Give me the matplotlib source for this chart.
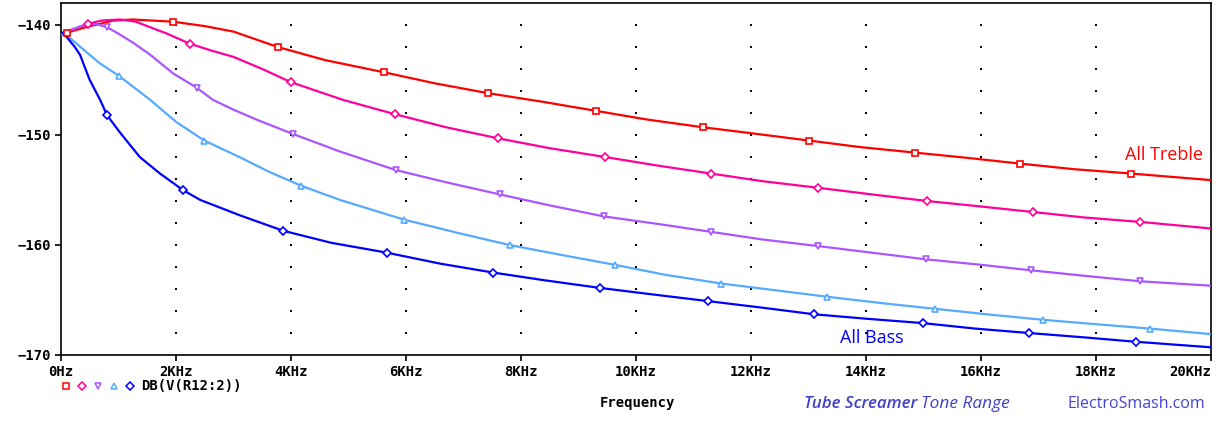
import numpy as np
import matplotlib

matplotlib.use("Agg")
from matplotlib import pyplot as plt
from matplotlib.lines import Line2D

# frequency in kHz, level in dB
treble_f = [0.0, 0.1, 0.3, 0.5, 0.68, 0.9, 1.25, 1.6, 1.95, 2.5, 3.0, 3.77, 4.6, 5.62, 6.5, 7.43, 8.4, 9.3, 10.2,
            11.17, 12.1, 13.0, 13.9, 14.85, 15.8, 16.68, 17.6, 18.6, 19.3, 20.0]
treble_db = [-140.8, -140.7, -140.4, -140.1, -139.9, -139.6, -139.5, -139.6, -139.7, -140.1, -140.6, -142.0,
             -143.2, -144.3, -145.3, -146.2, -147.0, -147.8, -148.6, -149.3, -149.9, -150.5, -151.1, -151.6,
             -152.1, -152.6, -153.1, -153.5, -153.8, -154.1]
treble_mf = [0.1, 1.95, 3.77, 5.62, 7.43, 9.3, 11.17, 13.0, 14.85, 16.68, 18.6]
treble_mdb = [-140.7, -139.7, -142.0, -144.3, -146.2, -147.8, -149.3, -150.5, -151.6, -152.6, -153.5]

mid_hi_f = [0.0, 0.2, 0.47, 0.7, 1.03, 1.3, 1.55, 1.85, 2.24, 2.6, 3.0, 3.5, 4.0, 4.9, 5.8, 6.7, 7.6, 8.5, 9.46,
            10.4, 11.3, 12.2, 13.17, 14.1, 15.06, 16.0, 16.9, 17.8, 18.77, 20.0]
mid_hi_db = [-140.8, -140.4, -139.9, -139.6, -139.5, -139.7, -140.2, -140.8, -141.7, -142.3, -142.9, -144.0,
             -145.2, -146.8, -148.1, -149.3, -150.3, -151.2, -152.0, -152.8, -153.5, -154.2, -154.8, -155.4,
             -156.0, -156.5, -157.0, -157.5, -157.9, -158.5]
mid_hi_mf = [0.47, 2.24, 4.0, 5.8, 7.6, 9.46, 11.3, 13.17, 15.06, 16.9, 18.77]
mid_hi_mdb = [-139.9, -141.7, -145.2, -148.1, -150.3, -152.0, -153.5, -154.8, -156.0, -157.0, -157.9]

mid_f = [0.0, 0.2, 0.4, 0.6, 0.8, 0.97, 1.25, 1.55, 1.95, 2.36, 2.64, 3.0, 3.4, 4.03, 4.85, 5.83, 6.7, 7.63,
         8.5, 9.44, 10.4, 11.3, 12.2, 13.17, 14.1, 15.04, 16.0, 16.87, 17.8, 18.77, 20.0]
mid_db = [-140.8, -140.4, -140.0, -139.9, -140.2, -140.7, -141.6, -142.7, -144.4, -145.7, -146.8, -147.7,
          -148.6, -149.9, -151.5, -153.2, -154.3, -155.4, -156.4, -157.4, -158.1, -158.8, -159.5, -160.1,
          -160.7, -161.3, -161.8, -162.3, -162.8, -163.3, -163.7]
mid_mf = [0.8, 2.36, 4.03, 5.83, 7.63, 9.44, 11.3, 13.17, 15.04, 16.87, 18.77]
mid_mdb = [-140.2, -145.7, -149.9, -153.2, -155.4, -157.4, -158.8, -160.1, -161.3, -162.3, -163.3]

mid_lo_f = [0.0, 0.16, 0.45, 0.68, 1.0, 1.25, 1.55, 2.0, 2.49, 3.1, 3.6, 4.17, 4.85, 5.97, 6.9, 7.8, 8.7,
            9.63, 10.5, 11.48, 12.4, 13.32, 14.3, 15.2, 16.1, 17.08, 18.0, 18.94, 20.0]
mid_lo_db = [-140.8, -141.2, -142.5, -143.5, -144.6, -145.6, -146.8, -148.8, -150.5, -152.0, -153.3, -154.6,
             -155.9, -157.7, -158.9, -160.0, -160.9, -161.8, -162.7, -163.5, -164.1, -164.7, -165.3, -165.8,
             -166.3, -166.8, -167.2, -167.6, -168.1]
mid_lo_mf = [1.0, 2.49, 4.17, 5.97, 7.8, 9.63, 11.48, 13.32, 15.2, 17.08, 18.94]
mid_lo_mdb = [-144.6, -150.5, -154.6, -157.7, -160.0, -161.8, -163.5, -164.7, -165.8, -166.8, -167.6]

bass_f = [0.0, 0.1, 0.24, 0.33, 0.5, 0.68, 0.8, 1.03, 1.37, 1.72, 2.12, 2.42, 3.11, 3.86, 4.7, 5.67, 6.6, 7.51,
          8.4, 9.37, 10.3, 11.25, 12.2, 13.1, 14.0, 14.99, 15.9, 16.83, 17.8, 18.7, 20.0]
bass_db = [-140.6, -141.1, -142.0, -142.7, -145.0, -146.8, -148.2, -149.8, -152.0, -153.5, -155.0, -155.9,
           -157.3, -158.7, -159.8, -160.7, -161.7, -162.5, -163.2, -163.9, -164.5, -165.1, -165.7, -166.3,
           -166.7, -167.1, -167.6, -168.0, -168.4, -168.8, -169.3]
bass_mf = [0.8, 2.12, 3.86, 5.67, 7.51, 9.37, 11.25, 13.1, 14.99, 16.83, 18.7]
bass_mdb = [-148.2, -155.0, -158.7, -160.7, -162.5, -163.9, -165.1, -166.3, -167.1, -168.0, -168.8]

x_ticks = [0, 2, 4, 6, 8, 10, 12, 14, 16, 18, 20]
x_labels = ["0Hz", "2KHz", "4KHz", "6KHz", "8KHz", "10KHz", "12KHz", "14KHz", "16KHz", "18KHz", "20KHz"]
y_ticks = [-170, -160, -150, -140]

series = [
    (treble_f, treble_db, treble_mf, treble_mdb, "#ff0000", "s"),
    (mid_hi_f, mid_hi_db, mid_hi_mf, mid_hi_mdb, "#ff0099", "D"),
    (mid_f, mid_db, mid_mf, mid_mdb, "#aa55ff", "v"),
    (mid_lo_f, mid_lo_db, mid_lo_mf, mid_lo_mdb, "#55aaff", "^"),
    (bass_f, bass_db, bass_mf, bass_mdb, "#0000ff", "D"),
]

mono = {"family": "DejaVu Sans Mono", "weight": "bold", "size": 10}

fig = plt.figure(figsize=(12.17, 4.21), dpi=100)
ax = fig.add_axes([61 / 1217, 66 / 421, 1150 / 1217, 352 / 421])

# dotted grid: points every 2 dB on each inner x tick
gx, gy = np.meshgrid(x_ticks[1:-1], np.arange(-168, -138, 2))
ax.scatter(gx.ravel(), gy.ravel(), s=1.6, color="black", marker="s", linewidths=0, zorder=1)

for f, db, mf, mdb, color, mk in series:
    ax.plot(f, db, color=color, linewidth=1.6, zorder=3)
    ax.plot(mf, mdb, linestyle="none", marker=mk, markersize=3.8, markerfacecolor="white",
            markeredgecolor=color, markeredgewidth=1.2, zorder=4)

ax.set_xlim(0, 20)
ax.set_ylim(-170, -138)
ax.set_xticks(x_ticks)
ax.set_xticklabels(x_labels, fontdict=mono)
ax.get_xticklabels()[-1].set_ha("right")
ax.set_yticks(y_ticks)
ax.set_yticklabels([f"\u2212{abs(v)}" for v in y_ticks], fontdict=mono)
ax.tick_params(direction="out", length=4, width=1.2, pad=3)
for s in ax.spines.values():
    s.set_linewidth(1.2)

fig.text(1164 / 1217, 1 - 155 / 421, "All Treble", color="#ff0000", fontsize=13, ha="center", va="center",
         family="Open Sans")
fig.text(872 / 1217, 1 - 338 / 421, "All Bass", color="#0000ff", fontsize=13, ha="center", va="center",
         family="Open Sans")

# legend row under the axis
leg_x = [66, 82, 98, 114, 130]
for (f, db, mf, mdb, color, mk), lx in zip(series, leg_x):
    fig.lines.append(Line2D([lx / 1217], [1 - 386 / 421], transform=fig.transFigure,
                            linestyle="none", marker=mk, markersize=3.8,
                            markerfacecolor="white", markeredgecolor=color, markeredgewidth=1.1))
fig.text(141 / 1217, 1 - 386 / 421, "DB(V(R12:2))", va="center", ha="left", **mono)
fig.text(637 / 1217, 1 - 403 / 421, "Frequency", va="center", ha="center", **mono)

fig.text(917 / 1217, 1 - 404 / 421, "Tube Screamer", color="#4040c8", fontsize=12.2, style="italic",
         weight="semibold", ha="right", va="center", family="Open Sans")
fig.text(921 / 1217, 1 - 404 / 421, "Tone Range", color="#4040c8", fontsize=12.4, style="italic",
         ha="left", va="center", family="Open Sans")
fig.text(1136 / 1217, 1 - 404 / 421, "ElectroSmash.com", color="#4444dd", fontsize=11.5,
         ha="center", va="center", family="Open Sans")

fig.savefig("out.png", dpi=100)
